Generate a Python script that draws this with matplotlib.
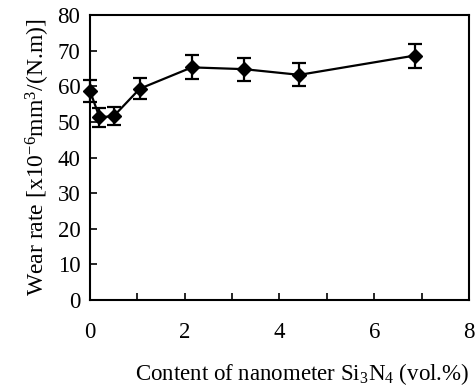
import matplotlib.pyplot as plt
from matplotlib.ticker import MultipleLocator

# Valeurs
content = [0.0, 0.2, 0.5, 1.05, 2.15, 3.25, 4.42, 6.85]
wear_rate = [58.7, 51.3, 51.6, 59.3, 65.3, 64.8, 63.2, 68.6]
wear_err = [3.0, 2.6, 2.6, 3.0, 3.4, 3.2, 3.2, 3.4]
x_ticks = [0, 2, 4, 6, 8]
y_ticks = [0, 10, 20, 30, 40, 50, 60, 70, 80]

plt.rcParams['font.family'] = ['Liberation Serif', 'DejaVu Serif']
plt.rcParams['mathtext.fontset'] = 'custom'
plt.rcParams['mathtext.rm'] = 'Liberation Serif'
plt.rcParams['mathtext.it'] = 'Liberation Serif:italic'

fig = plt.figure(figsize=(4.77, 3.91), dpi=100)
ax = fig.add_axes([90 / 477, 1 - 300 / 391, 379 / 477, 285 / 391])

ax.errorbar(content, wear_rate, yerr=wear_err, color='black', marker='D',
            markersize=7, linewidth=1.6, elinewidth=1.6, capsize=5, capthick=1.6,
            clip_on=False, zorder=3)

ax.set_xlim(0, 8)
ax.set_ylim(0, 80)
ax.set_xticks(x_ticks)
ax.xaxis.set_minor_locator(MultipleLocator(1))
ax.set_yticks(y_ticks)
ax.tick_params(axis='both', which='both', direction='in', labelsize=16.5)
ax.tick_params(axis='x', which='both', length=5, width=1.2, pad=16)
ax.tick_params(axis='y', length=5, width=1.2, pad=7)
for s in ax.spines.values():
    s.set_linewidth(1.5)

ax.set_xlabel(r'Content of nanometer Si$_3$N$_4$ (vol.%)', fontsize=16.5)
ax.xaxis.set_label_coords(0.56, -0.215)
ax.set_ylabel(r'Wear rate [x10$^{-6}$mm$^3$/(N.m)]', fontsize=17, labelpad=4)

plt.savefig('out.png', dpi=100)
